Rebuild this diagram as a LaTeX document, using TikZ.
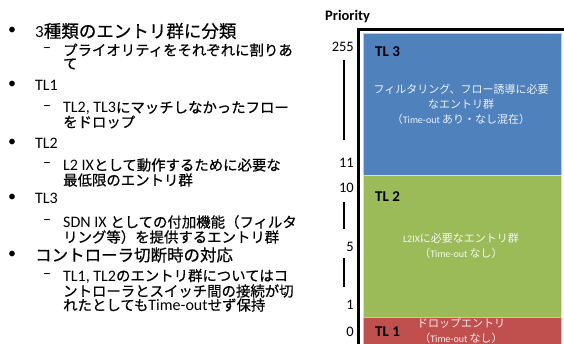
\documentclass[tikz,border=0pt]{standalone}
\usepackage{fontspec}
\setmainfont{Carlito}
\newfontfamily\jpA{Noto Sans CJK JP}[Scale=1.03,FakeBold=0.6]
\newfontfamily\jpB{Noto Sans CJK JP}[Scale=0.9,FakeBold=0.6]
\newfontfamily\jpC{Noto Sans CJK JP}[Scale=1.1]
\let\curjp\jpA
\newcommand\J[1]{{\curjp #1}}
\definecolor{blueB}{HTML}{4F81BD}
\definecolor{greenB}{HTML}{9BBB59}
\definecolor{redB}{HTML}{C0504D}
\tikzset{
  mainline/.style={anchor=west, inner sep=0, font=\fontsize{16}{18}\selectfont\let\curjp\jpA},
  subline/.style={anchor=west, inner sep=0, font=\fontsize{16}{18}\selectfont\let\curjp\jpB},
  boxtext/.style={inner sep=0, text=white, text opacity=0.9, font=\fontsize{10}{12}\selectfont\let\curjp\jpC},
  numlabel/.style={anchor=east, inner sep=0, font=\fontsize{14.5}{16}\selectfont},
  tllabel/.style={anchor=west, inner sep=0, font=\bfseries\fontsize{15}{17}\selectfont},
  tlbox/.style={line width=1pt},
  rangebar/.style={line width=2pt},
}
\begin{document}
\begin{tikzpicture}[x=1pt,y=-1pt]
\useasboundingbox (0,0) rectangle (564,343);
% left column
\node[mainline] (b1) at (8,31) {•};
\node[mainline] (t1) at (35,31) {\fontsize{17}{18}\selectfont 3\J{種類のエントリ群に分類}};
\node[mainline] (d1) at (43,50) {–};
\node[subline] (s1a) at (63,50) {\J{プライオリティをそれぞれに割りあ}};
\node[subline] (s1b) at (63,64) {\J{て}};
\node[mainline] (b2) at (8,85) {•};
\node[mainline] (t2) at (35,85) {TL1};
\node[mainline] (d2) at (43,108) {–};
\node[subline] (s2a) at (63,108) {TL2, TL3\J{にマッチしなかったフロー}};
\node[subline] (s2b) at (63,122) {\J{をドロップ}};
\node[mainline] (b3) at (8,143) {•};
\node[mainline] (t3) at (35,143) {TL2};
\node[mainline] (d3) at (43,165) {–};
\node[subline] (s3a) at (63,165) {L2 IX\J{として動作するために必要な}};
\node[subline] (s3b) at (63,180) {\J{最低限のエントリ群}};
\node[mainline] (b4) at (8,198) {•};
\node[mainline] (t4) at (35,198) {TL3};
\node[mainline] (d4) at (43,222) {–};
\node[subline] (s4a) at (63,222) {SDN IX \J{としての付加機能（フィルタ}};
\node[subline] (s4b) at (63,237) {\J{リング等）を提供するエントリ群}};
\node[mainline] (b5) at (8,255) {•};
\node[mainline] (t5) at (35,255) {\J{コントローラ切断時の対応}};
\node[mainline] (d5) at (43,276) {–};
\node[subline] (s5a) at (63,276) {TL1, TL2\J{のエントリ群についてはコ}};
\node[subline] (s5b) at (63,291) {\J{ントローラとスイッチ間の接続が切}};
\node[subline] (s5c) at (63,305) {\J{れたとしても}Time-out\J{せず保持}};
% right column
\node[anchor=west, inner sep=0, font=\bfseries\fontsize{14.5}{16}\selectfont] (prio) at (325,17) {Priority};
\fill[blueB] (363,33) rectangle (561,175);
\fill[redB] (363,317) rectangle (561,346);
\node[boxtext] (r1) at (461,323) {\J{ドロップエントリ}};
\node[boxtext] (r2) at (461,338) {\J{（}Time-out \J{なし）}};
\fill[greenB] (363,175) rectangle (561,317);
\draw[tlbox, draw=blueB!40!white] (363,33) rectangle (561,175);
\draw[tlbox, draw=greenB!40!white] (363,175) rectangle (561,317);
\draw[tlbox, draw=redB!40!white] (363,317) rectangle (561,346);
\draw[line width=3pt] (358.5,345) -- (358.5,29.5) -- (566,29.5);
\node[tllabel] (tl3) at (375,52) {TL 3};
\node[tllabel] (tl2) at (375,196.5) {TL 2};
\node[tllabel] (tl1) at (375,332) {TL 1};
\node[boxtext] (g1) at (461,89) {\J{フィルタリング、フロー誘導に必要}};
\node[boxtext] (g2) at (461,104) {\J{なエントリ群}};
\node[boxtext] (g3) at (461,119) {\J{（}Time-out \J{あり・なし混在）}};
\node[boxtext] (h1) at (461,238) {L2IX\J{に必要なエントリ群}};
\node[boxtext] (h2) at (461,253) {\J{（}Time-out \J{なし）}};
\node[numlabel] (n255) at (354,46.5) {255};
\node[numlabel] (n11) at (354,163) {11};
\node[numlabel] (n10) at (354,188) {10};
\node[numlabel] (n5) at (354,247) {5};
\node[numlabel] (n1) at (354,305) {1};
\node[numlabel] (n0) at (354,332) {0};
\coordinate (v1a) at (344,60); \coordinate (v1b) at (344,140);
\coordinate (v2a) at (344,202); \coordinate (v2b) at (344,229);
\coordinate (v3a) at (344,258); \coordinate (v3b) at (344,287);
\draw[rangebar] (v1a) -- (v1b);
\draw[rangebar] (v2a) -- (v2b);
\draw[rangebar] (v3a) -- (v3b);
\end{tikzpicture}
\end{document}
